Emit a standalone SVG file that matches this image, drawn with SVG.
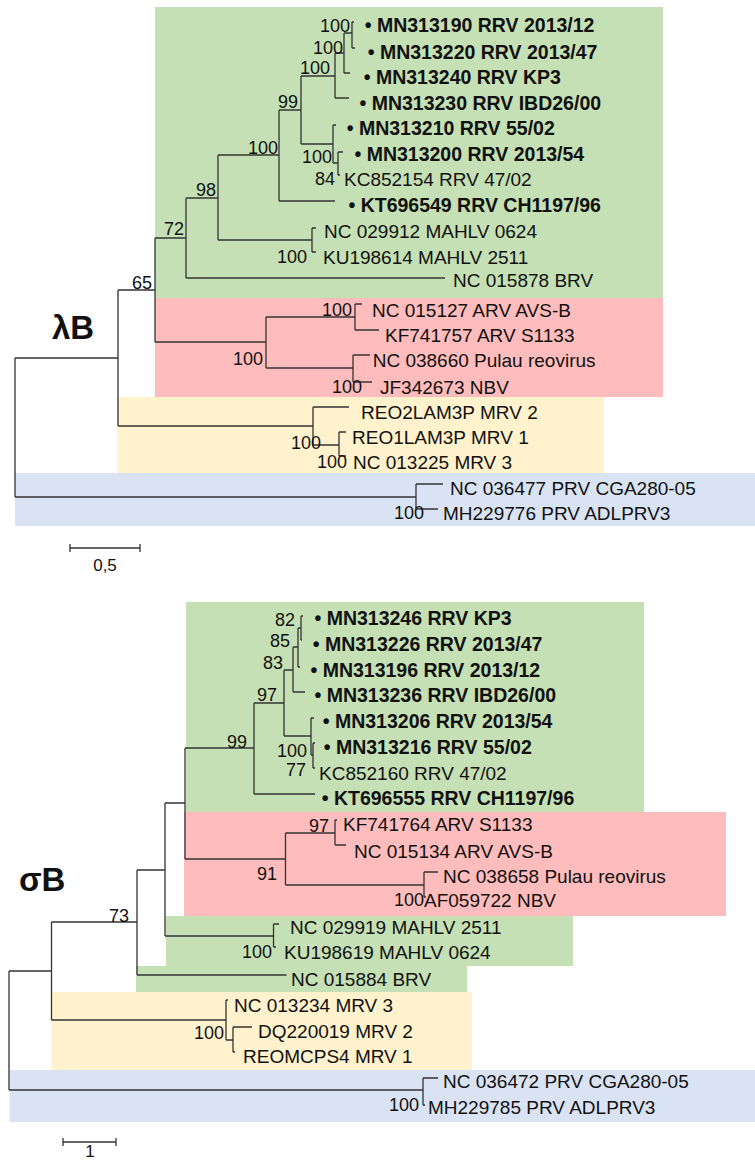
<svg xmlns="http://www.w3.org/2000/svg" width="755" height="1162" viewBox="0 0 755 1162">
<style>
text{font-family:"Liberation Sans",Arial,sans-serif;fill:#111}
.l{font-size:19px}
.b{font-size:19.5px;font-weight:bold}
.n{font-size:18px;text-anchor:end}
.t{font-size:33px;font-weight:bold}
.s{font-size:17px;text-anchor:middle}
.br{fill:none;stroke:#333;stroke-width:1.3}
.g{fill:#c5e0b4}.r{fill:#ffbcbc}.y{fill:#fff2cc}.bl{fill:#dae3f3}
</style>
<g id="backgrounds">
<rect class="g" x="155" y="7" width="508" height="291"/>
<rect class="r" x="155" y="298" width="508" height="99"/>
<rect class="y" x="117" y="397" width="487" height="76"/>
<rect class="bl" x="15" y="473" width="740" height="53"/>
<rect class="g" x="186" y="602" width="458" height="210"/>
<rect class="r" x="184" y="812" width="542" height="104"/>
<rect class="g" x="166" y="916" width="407" height="50"/>
<rect class="g" x="136" y="966" width="331" height="26"/>
<rect class="y" x="51.5" y="992" width="420.5" height="78"/>
<rect class="bl" x="9.6" y="1070" width="745.4" height="52"/>
</g>
<g id="connectors" class="br">
<path d="M15 358V497M15 358H118M15 497H416"/>
<path d="M118 290V426M118 290H155M118 426H313"/>
<path d="M155 238V342M155 238H186M155 342H266"/>
<path d="M186 198V278M186 198H218M186 278H445"/>
<path d="M218 155V240M218 155H279M218 240H312"/>
<path d="M279 110V201M279 110H301M279 201H335"/>
<path d="M301 76V144M301 76H335M301 144H333"/>
<path d="M335 53V98M335 53H344M335 98H349"/>
<path d="M344 33V73M344 33H352M344 73H350"/>
<path d="M352 22V48M352 22H354M352 48H355"/>
<path d="M333 125V163M333 125H336M333 163H338"/>
<path d="M338 152V175M338 152H343M338 175H340"/>
<path d="M312 228V252M312 228H316M312 252H316"/>
<path d="M266 317V368M266 317H355M266 368H353"/>
<path d="M355 304V330M355 304H362M355 330H379"/>
<path d="M353 355V382M353 355H370M353 382H372"/>
<path d="M313 407V445M313 407H349M313 445H339"/>
<path d="M339 432V456M339 432H346M339 456H346"/>
<path d="M416 484V509M416 484H443M416 509H438"/>
<path d="M70 548H140M70 544V552M140 544V552"/>
<path d="M9 971V1090M9 971H51.5M9 1090H423"/>
<path d="M51.5 922V1020M51.5 922H137M51.5 1020H226"/>
<path d="M137 870V975M137 870H165M137 975H286.5"/>
<path d="M165 803V936M165 803H185M165 936H273.5"/>
<path d="M185 748V859M185 748H254M185 859H285.5"/>
<path d="M254 703V794M254 703H284M254 794H315"/>
<path d="M284 670V736M284 670H293M284 736H311"/>
<path d="M293 647V692M293 647H298M293 692H305"/>
<path d="M298 628V667M298 628H301M298 667H300"/>
<path d="M301 616V640M301 616H303M301 640H302"/>
<path d="M311 718V755M311 718H314M311 755H313"/>
<path d="M313 743V768M313 743H315M313 768H315"/>
<path d="M285.5 833V885M285.5 833H335M285.5 885H424"/>
<path d="M335 820V845M335 820H337M335 845H346"/>
<path d="M424 872V897M424 872H438M424 897H426"/>
<path d="M273.5 924V947M273.5 924H279M273.5 947H276"/>
<path d="M226 1000V1040M226 1000H228M226 1040H233"/>
<path d="M233 1027V1052M233 1027H252M233 1052H235"/>
<path d="M423 1078V1105M423 1078H438M423 1105H425"/>
<path d="M63 1142H116M63 1138V1146M116 1138V1146"/>
</g>
<g id="titles">
<text class="t" x="52" y="339">λB</text>
<text class="t" x="19" y="891">σB</text>
<text class="s" x="105" y="571">0,5</text>
<text class="s" x="90" y="1157">1</text>
</g>
<g id="leaves-lambda">
<g id="t1"><text class="b" x="364.7" y="32">• MN313190 RRV 2013/12</text></g>
<g id="t2"><text class="b" x="367.7" y="59">• MN313220 RRV 2013/47</text></g>
<g id="t3"><text class="b" x="363.7" y="84">• MN313240 RRV KP3</text></g>
<g id="t4"><text class="b" x="359.4" y="110">• MN313230 RRV IBD26/00</text></g>
<g id="t5"><text class="b" x="346.7" y="135">• MN313210 RRV 55/02</text></g>
<g id="t6"><text class="b" x="354.4" y="161">• MN313200 RRV 2013/54</text></g>
<g id="t7"><text class="l" x="344" y="186">KC852154 RRV 47/02</text></g>
<g id="t8"><text class="b" x="348.4" y="212">• KT696549 RRV CH1197/96</text></g>
<g id="t9"><text class="l" x="324" y="238">NC 029912 MAHLV 0624</text></g>
<g id="t10"><text class="l" x="323" y="264">KU198614 MAHLV 2511</text></g>
<g id="t11"><text class="l" x="453" y="287">NC 015878 BRV</text></g>
<g id="t12"><text class="l" x="372" y="317">NC 015127 ARV AVS-B</text></g>
<g id="t13"><text class="l" x="385" y="342">KF741757 ARV S1133</text></g>
<g id="t14"><text class="l" x="372.7" y="367">NC 038660 Pulau reovirus</text></g>
<g id="t15"><text class="l" x="380" y="394">JF342673 NBV</text></g>
<g id="t16"><text class="l" x="361" y="419">REO2LAM3P MRV 2</text></g>
<g id="t17"><text class="l" x="352" y="444">REO1LAM3P MRV 1</text></g>
<g id="t18"><text class="l" x="353" y="469">NC 013225 MRV 3</text></g>
<g id="t19"><text class="l" x="450" y="495">NC 036477 PRV CGA280-05</text></g>
<g id="t20"><text class="l" x="443" y="520">MH229776 PRV ADLPRV3</text></g>
</g>
<g id="support-lambda">
<text class="n" x="350" y="32">100</text>
<text class="n" x="343" y="54">100</text>
<text class="n" x="330" y="74">100</text>
<text class="n" x="298" y="108">99</text>
<text class="n" x="278" y="154">100</text>
<text class="n" x="332" y="163">100</text>
<text class="n" x="335" y="185">84</text>
<text class="n" x="216" y="196">98</text>
<text class="n" x="307" y="263">100</text>
<text class="n" x="184" y="235">72</text>
<text class="n" x="152" y="289">65</text>
<text class="n" x="352" y="316">100</text>
<text class="n" x="263" y="365">100</text>
<text class="n" x="362" y="393">100</text>
<text class="n" x="321" y="449">100</text>
<text class="n" x="347" y="468">100</text>
<text class="n" x="424" y="519">100</text>
</g>
<g id="leaves-sigma">
<g id="s1"><text class="b" x="314.4" y="625">• MN313246 RRV KP3</text></g>
<g id="s2"><text class="b" x="312.7" y="651">• MN313226 RRV 2013/47</text></g>
<g id="s3"><text class="b" x="310.4" y="677">• MN313196 RRV 2013/12</text></g>
<g id="s4"><text class="b" x="314.4" y="702">• MN313236 RRV IBD26/00</text></g>
<g id="s5"><text class="b" x="322.7" y="728">• MN313206 RRV 2013/54</text></g>
<g id="s6"><text class="b" x="323.7" y="754">• MN313216 RRV 55/02</text></g>
<g id="s7"><text class="l" x="319" y="780">KC852160 RRV 47/02</text></g>
<g id="s8"><text class="b" x="321.7" y="805">• KT696555 RRV CH1197/96</text></g>
<g id="s9"><text class="l" x="343" y="831">KF741764 ARV S1133</text></g>
<g id="s10"><text class="l" x="354" y="858">NC 015134 ARV AVS-B</text></g>
<g id="s11"><text class="l" x="443" y="883">NC 038658 Pulau reovirus</text></g>
<g id="s12"><text class="l" x="424" y="907">AF059722 NBV</text></g>
<g id="s13"><text class="l" x="290" y="934">NC 029919 MAHLV 2511</text></g>
<g id="s14"><text class="l" x="284" y="959">KU198619 MAHLV 0624</text></g>
<g id="s15"><text class="l" x="291" y="986">NC 015884 BRV</text></g>
<g id="s16"><text class="l" x="234" y="1012">NC 013234 MRV 3</text></g>
<g id="s17"><text class="l" x="258" y="1038">DQ220019 MRV 2</text></g>
<g id="s18"><text class="l" x="243" y="1063">REOMCPS4 MRV 1</text></g>
<g id="s19"><text class="l" x="443" y="1088">NC 036472 PRV CGA280-05</text></g>
<g id="s20"><text class="l" x="428" y="1114">MH229785 PRV ADLPRV3</text></g>
</g>
<g id="support-sigma">
<text class="n" x="295" y="626">82</text>
<text class="n" x="290" y="647">85</text>
<text class="n" x="283" y="669">83</text>
<text class="n" x="277" y="701">97</text>
<text class="n" x="247" y="748">99</text>
<text class="n" x="307" y="757">100</text>
<text class="n" x="306" y="776">77</text>
<text class="n" x="329" y="832">97</text>
<text class="n" x="277" y="880">91</text>
<text class="n" x="424" y="906">100</text>
<text class="n" x="129" y="922">73</text>
<text class="n" x="272" y="958">100</text>
<text class="n" x="224" y="1039">100</text>
<text class="n" x="419" y="1111">100</text>
</g>
</svg>
